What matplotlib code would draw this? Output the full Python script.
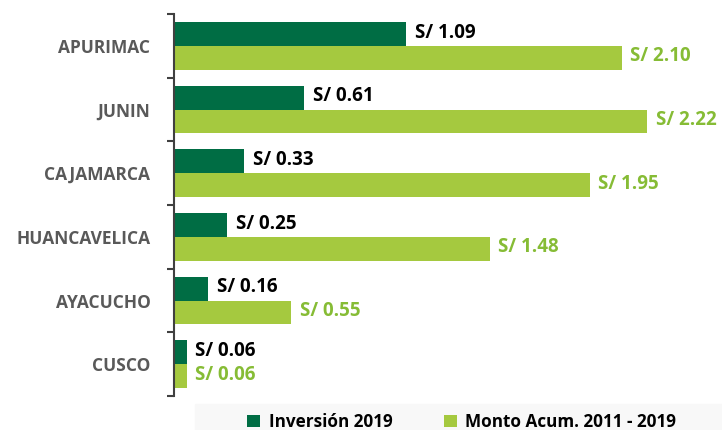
import numpy as np
import matplotlib.pyplot as plt
from matplotlib.patches import Rectangle

regions = ['APURIMAC', 'JUNIN', 'CAJAMARCA', 'HUANCAVELICA', 'AYACUCHO', 'CUSCO']
inversion_2019 = [1.09, 0.61, 0.33, 0.25, 0.16, 0.06]
monto_acum = [2.10, 2.22, 1.95, 1.48, 0.55, 0.06]
series_names = ['Inversión 2019', 'Monto Acum. 2011 - 2019']

dark = '#006d44'
light = '#a5c93f'
light_txt = '#86bc35'

plt.rcParams['font.family'] = ['Open Sans', 'DejaVu Sans']

fig = plt.figure(figsize=(7.22, 4.30), dpi=100)
ax = fig.add_axes([174 / 722, 34 / 430, 1 - 174 / 722, 382 / 430])

y = np.arange(len(regions))
h = 0.375
ax.barh(y - h / 2, inversion_2019, height=h, color=dark, label=series_names[0])
ax.barh(y + h / 2, monto_acum, height=h, color=light, label=series_names[1])

for yi, v in zip(y, inversion_2019):
    ax.text(v + 0.04, yi - h / 2 - 0.02, 'S/ %.2f' % v, va='center', ha='left',
            fontsize=13.5, fontweight='bold', color='black')
for yi, v in zip(y, monto_acum):
    ax.text(v + 0.04, yi + h / 2 - 0.02, 'S/ %.2f' % v, va='center', ha='left',
            fontsize=13.5, fontweight='bold', color=light_txt)

ax.set_ylim(len(regions) - 0.5, -0.5)
ax.set_xlim(0, 2.57)
ax.set_yticks(np.arange(-0.5, len(regions), 1))
ax.set_yticklabels([])
ax.set_yticks(y, minor=True)
ax.set_yticklabels(regions, minor=True, fontweight='bold')
ax.tick_params(axis='y', which='major', length=5, width=1.5, color='#404040')
ax.tick_params(axis='y', which='minor', length=0, pad=17,
               labelsize=12.5, labelcolor='#595959')
ax.set_xticks([])
for s in ['top', 'right', 'bottom']:
    ax.spines[s].set_visible(False)
ax.spines['left'].set_linewidth(1.5)
ax.spines['left'].set_color('#404040')

# legend band
fig.patches.append(Rectangle((195 / 722, 0), 1 - 195 / 722, 26 / 430,
                             transform=fig.transFigure, color='#f8f8f8', zorder=0))
leg = fig.legend(loc='lower left', bbox_to_anchor=(232 / 722, -0.038), ncol=2,
                 frameon=False, handlelength=0.75, handleheight=0.75,
                 columnspacing=3.0, handletextpad=0.5,
                 prop={'size': 12.3, 'weight': 'bold'})

fig.savefig('out.png', dpi=100)
